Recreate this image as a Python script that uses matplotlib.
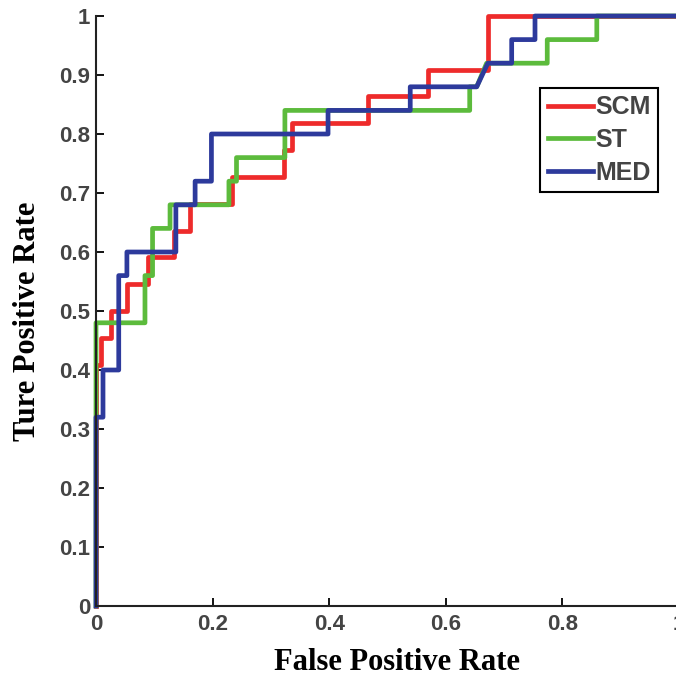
import matplotlib
matplotlib.use('Agg')
import matplotlib.pyplot as plt

# ROC points (false positive rate, true positive rate)
scm_fpr = [0, 0, 0.009, 0.009, 0.026, 0.026, 0.054, 0.054, 0.089, 0.089, 0.134, 0.134,
           0.161, 0.161, 0.234, 0.234, 0.322, 0.322, 0.336, 0.336, 0.467, 0.467,
           0.570, 0.570, 0.672, 0.672, 1.0]
scm_tpr = [0, 0.409, 0.409, 0.455, 0.455, 0.500, 0.500, 0.545, 0.545, 0.591, 0.591, 0.636,
           0.636, 0.682, 0.682, 0.727, 0.727, 0.773, 0.773, 0.818, 0.818, 0.864,
           0.864, 0.909, 0.909, 1.0, 1.0]

st_fpr = [0, 0, 0.084, 0.084, 0.097, 0.097, 0.127, 0.127, 0.228, 0.228, 0.241, 0.241,
          0.324, 0.324, 0.641, 0.641, 0.653, 0.670, 0.774, 0.774, 0.859, 0.859, 1.0]
st_tpr = [0, 0.48, 0.48, 0.56, 0.56, 0.64, 0.64, 0.68, 0.68, 0.72, 0.72, 0.76,
          0.76, 0.84, 0.84, 0.88, 0.88, 0.92, 0.92, 0.96, 0.96, 1.0, 1.0]

med_fpr = [0, 0, 0.012, 0.012, 0.039, 0.039, 0.053, 0.053, 0.137, 0.137, 0.170, 0.170,
           0.198, 0.198, 0.398, 0.398, 0.539, 0.539, 0.653, 0.672, 0.713, 0.713,
           0.753, 0.753, 1.0]
med_tpr = [0, 0.32, 0.32, 0.40, 0.40, 0.56, 0.56, 0.60, 0.60, 0.68, 0.68, 0.72,
           0.72, 0.80, 0.80, 0.84, 0.84, 0.88, 0.88, 0.92, 0.92, 0.96,
           0.96, 1.0, 1.0]

xticks = [0, 0.2, 0.4, 0.6, 0.8, 1]
xticklabels = ['0', '0.2', '0.4', '0.6', '0.8', '1']
yticks = [0, 0.1, 0.2, 0.3, 0.4, 0.5, 0.6, 0.7, 0.8, 0.9, 1]
yticklabels = ['0', '0.1', '0.2', '0.3', '0.4', '0.5', '0.6', '0.7', '0.8', '0.9', '1']

fig = plt.figure(figsize=(6.76, 6.79), dpi=100)
ax = fig.add_axes([96 / 676, 73 / 679, 583 / 676, 590 / 679])

lw = 3.4
ax.plot(scm_fpr, scm_tpr, color='#ee2b2b', lw=lw, label='SCM', clip_on=False)
ax.plot(st_fpr, st_tpr, color='#5cbb3c', lw=lw, label='ST', clip_on=False)
ax.plot(med_fpr, med_tpr, color='#2d3a9c', lw=lw, label='MED', clip_on=False)

ax.set_xlim(0, 1)
ax.set_ylim(0, 1)
ax.spines['top'].set_visible(False)
ax.spines['right'].set_visible(False)
for s in ('left', 'bottom'):
    ax.spines[s].set_linewidth(1.5)
    ax.spines[s].set_color('#222222')

tickfont = dict(family='Liberation Sans', weight='bold', size=16)
ax.set_xticks(xticks)
ax.set_xticklabels(xticklabels, fontdict=tickfont, color='#444444')
ax.set_yticks(yticks)
ax.set_yticklabels(yticklabels, fontdict=tickfont, color='#444444')
ax.tick_params(direction='in', length=6, width=1.3)
ax.tick_params(axis='x', pad=6)
ax.tick_params(axis='y', pad=4)

labfont = dict(family='Liberation Serif', weight='bold', size=22)
ax.set_xlabel('False Positive Rate', fontdict=labfont)
ax.set_ylabel('Ture Positive Rate', fontdict=labfont)
# reference labels sit a little off the axes centre
ax.xaxis.set_label_coords(0.517, -0.072)
ax.yaxis.set_label_coords(-0.093, 0.483)

leg = ax.legend(loc='upper right', bbox_to_anchor=(0.964, 0.878), borderaxespad=0,
                fancybox=False, framealpha=1, edgecolor='black',
                handlelength=1.8, handletextpad=0.1, borderpad=0.3, labelspacing=0.35,
                prop=dict(family='Liberation Sans', weight='bold', size=18))
leg.get_frame().set_linewidth(1.5)
for t in leg.get_texts():
    t.set_color('#444444')

fig.savefig('out.png', dpi=100)
